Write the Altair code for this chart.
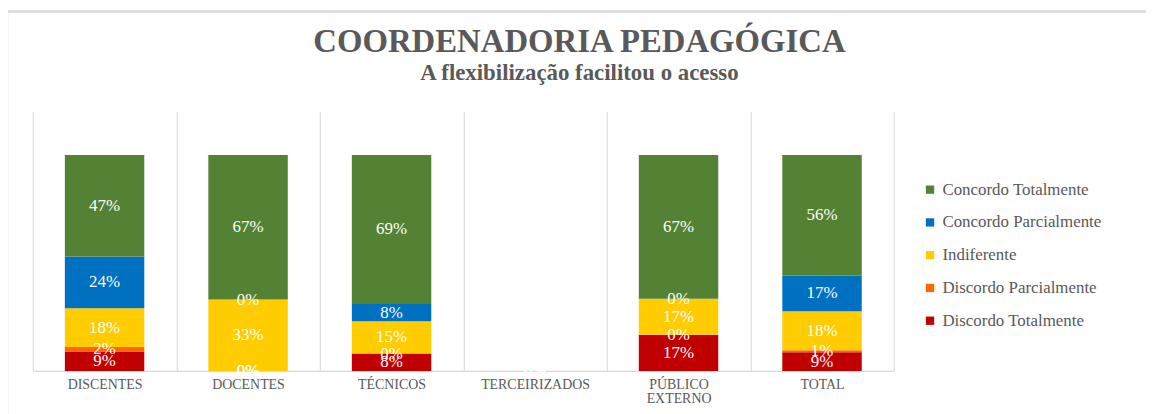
import altair as alt
import pandas as pd

categories = ["DISCENTES", "DOCENTES", "TÉCNICOS", "TERCEIRIZADOS", "PÚBLICO EXTERNO", "TOTAL"]
series = ["Concordo Totalmente", "Concordo Parcialmente", "Indiferente",
          "Discordo Parcialmente", "Discordo Totalmente"]
colors = ["#548235", "#0070C0", "#FFCC00", "#FF6600", "#C00000"]

concordo_totalmente = [0.47, 0.67, 0.69, 0.0, 0.666, 0.558]
concordo_parcialmente = [0.24, 0.0, 0.08, 0.0, 0.0, 0.166]
indiferente = [0.18, 0.33, 0.15, 0.0, 0.167, 0.18]
discordo_parcialmente = [0.02, 0.0, 0.0, 0.0, 0.0, 0.01]
discordo_totalmente = [0.09, 0.0, 0.08, 0.0, 0.167, 0.086]

values_by_series = [concordo_totalmente, concordo_parcialmente, indiferente,
                    discordo_parcialmente, discordo_totalmente]

rows = []
for si, (s, vals) in enumerate(zip(series, values_by_series)):
    for c, v in zip(categories, vals):
        rows.append({"cat": c, "serie": s, "value": v, "order": len(series) - si})
df = pd.DataFrame(rows)

FONT = "Liberation Serif"
GREY = "#595959"

base = alt.Chart(df).transform_stack(
    stack="value", groupby=["cat"], as_=["y0", "y1"],
    sort=[alt.SortField("order", order="ascending")]
).transform_calculate(mid="(datum.y0 + datum.y1) / 2")

xaxis = alt.Axis(labelAngle=0, labelFont=FONT, labelFontSize=14,
                 labelColor=GREY, labelPadding=7, ticks=False,
                 domainColor="#D9D9D9", domainWidth=1.5,
                 grid=True, gridColor="#DDDDDD", gridWidth=1.2,
                 tickBand="extent", labelLineHeight=14,
                 labelExpr="datum.label == 'PÚBLICO EXTERNO' ? ['PÚBLICO', 'EXTERNO'] : datum.label")
xscale = alt.Scale(paddingInner=0, paddingOuter=0, round=False)
yscale = alt.Scale(domain=[0, 1.2], nice=False)

bars = base.mark_bar(size=80).encode(
    x=alt.X("cat:N", sort=categories, title=None, scale=xscale, axis=xaxis),
    y=alt.Y("y0:Q", scale=yscale, axis=None),
    y2="y1:Q",
    color=alt.Color("serie:N", scale=alt.Scale(domain=series, range=colors),
                    sort=series,
                    legend=alt.Legend(title=None, orient="none", legendX=895, legendY=70,
                                      symbolType="square", symbolSize=70,
                                      symbolStrokeWidth=0, labelFont=FONT,
                                      labelFontSize=17, labelColor=GREY, labelLimit=400,
                                      labelOffset=4, rowPadding=15, padding=0)),
    order=alt.Order("order:Q"),
)

labels = base.mark_text(color="white", font=FONT, fontSize=17, baseline="middle").encode(
    x=alt.X("cat:N", sort=categories, title=None, scale=xscale, axis=xaxis),
    y=alt.Y("mid:Q", scale=yscale, axis=None),
    text=alt.Text("value:Q", format=".0%"),
)

border = alt.Chart(alt.Data(values=[{}])).mark_rect(
    fill=None, stroke="#D9D9D9", strokeWidth=2.5
).encode(x=alt.value(-26), y=alt.value(-101), x2=alt.value(1300), y2=alt.value(500))

chart = alt.layer(border, bars, labels).properties(
    width=867, height=261,
    padding={"left": 25, "top": 103, "right": 254, "bottom": 42},
    autosize=alt.AutoSizeParams(type="none"),
    background="white",
    title=alt.TitleParams(
        text="COORDENADORIA  PEDAGÓGICA",
        subtitle="A flexibilização facilitou o acesso",
        font=FONT, fontSize=33, fontWeight="bold", color=GREY,
        subtitleFont=FONT, subtitleFontSize=23, subtitleFontWeight="bold",
        subtitleColor=GREY, subtitlePadding=3,
        anchor="middle", dx=117, offset=-75,
    ),
).configure_view(strokeWidth=0, stroke=None)

chart.save("out.html", embed_options={"renderer": "svg", "actions": False})
